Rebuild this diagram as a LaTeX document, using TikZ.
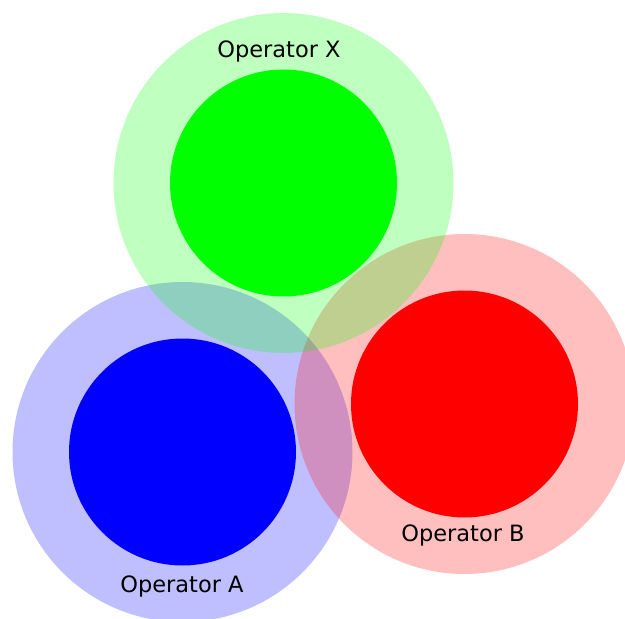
\documentclass[tikz,border=0pt]{standalone}
\usepackage{fontspec}
\setmainfont{DejaVu Sans}
\begin{document}
\begin{tikzpicture}[x=1pt,y=-1pt,
  halo/.style={fill=#1,fill opacity=0.25},
  core/.style={fill=#1},
  lbl/.style={anchor=base,inner sep=0pt,font=\fontsize{22.5}{27}\selectfont}]
\useasboundingbox (0,0) rectangle (625,619);
\definecolor{pgreen}{RGB}{0,255,0}
\definecolor{pblue}{RGB}{0,0,255}
\definecolor{pred}{RGB}{255,0,0}
% halos (order: blue, red, green)
\fill[halo=pblue] (182.5,452) circle (170);
\fill[halo=pred] (464.5,404) circle (170);
\fill[halo=pgreen] (283.5,183) circle (170);
% cores
\fill[core=pgreen] (283.5,183) circle (113.5);
\fill[core=pblue] (182.5,452) circle (113.5);
\fill[core=pred] (464.5,404) circle (113.5);
% labels
\node[lbl] (lx) at (279,57) {Operator X};
\node[lbl] (lb) at (463,541) {Operator B};
\node[lbl] (la) at (182,592) {Operator A};
\end{tikzpicture}
\end{document}
